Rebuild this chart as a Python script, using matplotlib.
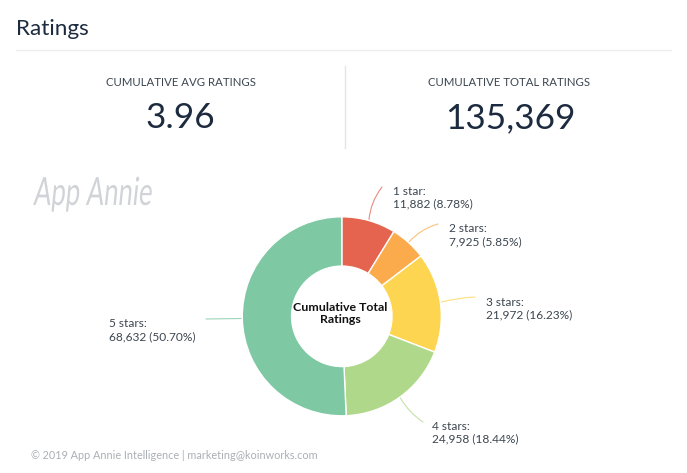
import matplotlib
matplotlib.use('Agg')
import matplotlib.pyplot as plt
import matplotlib.patheffects as pe
from matplotlib.transforms import Affine2D
import numpy as np

plt.rcParams['font.family'] = ['Lato', 'DejaVu Sans']

W, H = 687, 473

star_labels = ['1 star:', '2 stars:', '3 stars:', '4 stars:', '5 stars:']
star_counts = [11882, 7925, 21972, 24958, 68632]
star_pcts = ['8.78%', '5.85%', '16.23%', '18.44%', '50.70%']
colors = ['#E5644F', '#FBAB4B', '#FDD550', '#B0D88A', '#7EC8A3']

avg_title = 'CUMULATIVE AVG RATINGS'
avg_value = '3.96'
total_title = 'CUMULATIVE TOTAL RATINGS'
total_value = '135,369'


# squeezes and slants the glyphs of a text, for the narrow logo lettering
class Squeeze(pe.AbstractPathEffect):
    def __init__(self, sx, skew):
        super().__init__()
        self.tr = Affine2D().scale(sx, 1).skew_deg(skew, 0)

    def draw_path(self, renderer, gc, tpath, affine, rgbFace=None):
        renderer.draw_path(gc, tpath, self.tr + affine, rgbFace)


fig = plt.figure(figsize=(W / 100, H / 100), dpi=100)

# background axes in pixel coords, y going down like the picture
bg = fig.add_axes([0, 0, 1, 1])
bg.set_xlim(0, W)
bg.set_ylim(H, 0)
bg.axis('off')

bg.text(16, 29, 'Ratings', fontsize=16.2, color='#1c2b3f', va='center', ha='left')
bg.plot([16, 671], [50.5, 50.5], color='#eceef0', lw=1)
bg.plot([345, 345], [66, 148], color='#e3e5e8', lw=1)

bg.text(180.5, 82, avg_title, fontsize=8.2, color='#3c4650', ha='center', va='center')
bg.text(509.5, 82, total_title, fontsize=8.2, color='#3c4650', ha='center', va='center')
bg.text(180.5, 118, avg_value, fontsize=25.3, color='#1c2b3f', ha='center', va='center')
bg.text(510.5, 118, total_value, fontsize=25.3, color='#1c2b3f', ha='center', va='center')

logo = bg.text(33, 205, 'App Annie', fontsize=28, color='#d0d3d7', ha='left', va='baseline')
logo.set_path_effects([Squeeze(0.66, 6)])

bg.text(31, 455, '\u00a9 2019 App Annie Intelligence | marketing@koinworks.com',
        fontsize=7.8, color='#aab0b5', ha='left', va='center')

# donut
cx, cy, r = 341.8, 316.3, 99.5
pie_ax = fig.add_axes([(cx - r) / W, 1 - (cy + r) / H, 2 * r / W, 2 * r / H])
wedges, _ = pie_ax.pie(star_counts, colors=colors, startangle=90, counterclock=False,
                       radius=1, wedgeprops=dict(width=0.495, edgecolor='white', linewidth=1))
pie_ax.set_xlim(-1, 1)
pie_ax.set_ylim(-1, 1)
pie_ax.patch.set_alpha(0)

pie_ax.text(-0.015, 0.03, 'Cumulative Total\nRatings', fontsize=8.9, fontweight='bold', color='#111111',
            ha='center', va='center', linespacing=1.1)

# where each label sits and where its leader ends, in pixels
label_pos = [(393, 197.5), (449, 235), (486, 308.5), (432, 432.5), (109, 330)]
leader_end = [(382, 187), (438, 224), (475, 297), (423, 422), (206, 319)]
leader_rad = [-0.15, -0.15, -0.05, 0.12, 0.0]

for w, lab, n, pct, pos, end, rad, col in zip(wedges, star_labels, star_counts, star_pcts,
                                              label_pos, leader_end, leader_rad, colors):
    ang = np.deg2rad((w.theta1 + w.theta2) / 2)
    start = (cx + r * np.cos(ang), cy - r * np.sin(ang))
    bg.annotate('', xy=end, xytext=start, xycoords='data', textcoords='data',
                arrowprops=dict(arrowstyle='-', color=col, lw=0.8, alpha=0.75,
                                connectionstyle=f'arc3,rad={rad}', shrinkA=0, shrinkB=0))
    bg.text(pos[0], pos[1], f'{lab}\n{n:,} ({pct})', fontsize=8.6, color='#3c4650',
            ha='left', va='center', linespacing=1.2)

fig.savefig('out.png', dpi=100, facecolor='white')
